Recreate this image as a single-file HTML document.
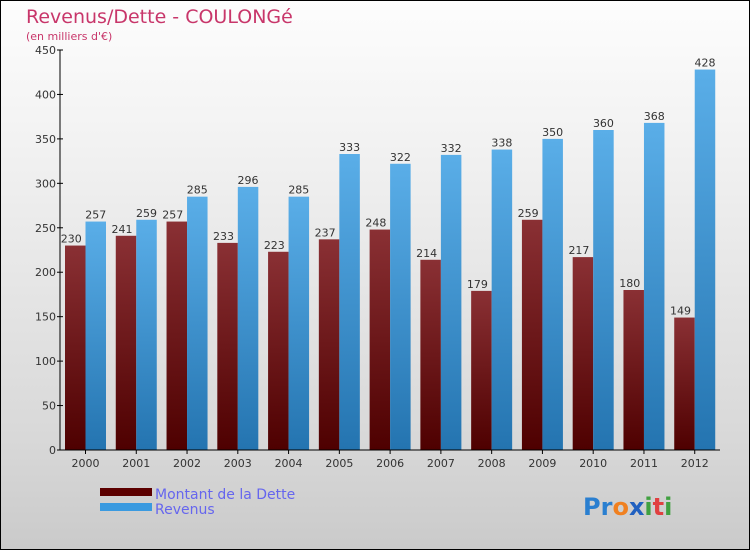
<!DOCTYPE html>
<html><head><meta charset="utf-8"><style>
body{margin:0}
#c{width:750px;height:550px;position:relative;box-sizing:border-box;border:1px solid #000;background:linear-gradient(#fdfdfd,#f0f0f0 30%,#d8d8d8 80%,#cacaca);font-family:"DejaVu Sans","Liberation Sans",sans-serif;overflow:hidden}
</style></head><body>
<div id="c">
<svg id="s" width="750" height="550" style="position:absolute;left:-1px;top:-1px">
<defs>
<linearGradient id="gd" x1="0" y1="0" x2="0" y2="1"><stop offset="0" stop-color="#8a3034"/><stop offset="1" stop-color="#4e0000"/></linearGradient>
<linearGradient id="gr" x1="0" y1="0" x2="0" y2="1"><stop offset="0" stop-color="#5aaee8"/><stop offset="1" stop-color="#2474b0"/></linearGradient>
</defs>
<text x="26" y="23" font-size="19" fill="#c8366a">Revenus/Dette - COULONGé</text>
<text x="26" y="40" font-size="11" fill="#c8366a">(en milliers d'€)</text>
<g id="bars"></g>
<g id="axes"></g>
<rect x="100" y="488" width="52" height="8" fill="#5c0000"/>
<text x="155" y="499" font-size="14" fill="#6666ee">Montant de la Dette</text>
<rect x="100" y="503" width="52" height="8" fill="#3a9ae0"/>
<text x="155" y="514" font-size="14" fill="#6666ee">Revenus</text>
<text x="583" y="515" font-size="24" font-weight="bold"><tspan fill="#2a7fd0">Pr</tspan><tspan fill="#f08020">o</tspan><tspan fill="#2060c0">x</tspan><tspan fill="#40a040">i</tspan><tspan fill="#e04040">t</tspan><tspan fill="#40a040">i</tspan></text>
</svg>
</div>
<script>
const years=["2000","2001","2002","2003","2004","2005","2006","2007","2008","2009","2010","2011","2012"];
const dette=[230,241,257,233,223,237,248,214,179,259,217,180,149];
const revenus=[257,259,285,296,285,333,322,332,338,350,360,368,428];
const yTicks=[0,50,100,150,200,250,300,350,400,450];
const NS="http://www.w3.org/2000/svg";
const x0=60,x1=720,yBase=450,yTop=50,yMax=450;
const step=(x1-x0)/years.length;
const y=v=>yBase-(v/yMax)*(yBase-yTop);
const bw=20.5;
const bars=document.getElementById('bars'),axes=document.getElementById('axes');
function mk(t,a,p){const e=document.createElementNS(NS,t);for(const k in a)e.setAttribute(k,a[k]);p.appendChild(e);return e;}
years.forEach((yr,i)=>{
  const gx=x0+5+i*step;
  const r1=mk('rect',{x:gx,y:y(dette[i]),width:bw,height:yBase-y(dette[i]),fill:'url(#gd)'},bars);
  
  
  const r2=mk('rect',{x:gx+bw,y:y(revenus[i]),width:bw,height:yBase-y(revenus[i]),fill:'url(#gr)'},bars);
  
  
  const t1=mk('text',{x:gx+bw/2-4,y:y(dette[i])-3,'font-size':11,fill:'#333','text-anchor':'middle'},bars);
  t1.textContent=dette[i];
  
  
  const t2=mk('text',{x:gx+bw*1.5,y:y(revenus[i])-3,'font-size':11,fill:'#333','text-anchor':'middle'},bars);
  t2.textContent=revenus[i];
  
  
  const tl=mk('text',{x:gx+bw,y:467,'font-size':11,fill:'#333','text-anchor':'middle'},axes);
  tl.textContent=yr;
  
  
  mk('line',{x1:gx+bw,x2:gx+bw,y1:yBase,y2:yBase+4,stroke:'#000'},axes);
});
mk('line',{x1:x0,x2:x0,y1:yTop,y2:yBase,stroke:'#000'},axes);
mk('line',{x1:x0,x2:x1,y1:yBase,y2:yBase,stroke:'#000'},axes);
yTicks.forEach(v=>{
  mk('line',{x1:x0-3,x2:x0+3,y1:y(v),y2:y(v),stroke:'#000'},axes);
  const t=mk('text',{x:x0-4,y:y(v)+4,'font-size':11,fill:'#333','text-anchor':'end'},axes);
  t.textContent=v;
  
  
});
</script>
</body></html>
